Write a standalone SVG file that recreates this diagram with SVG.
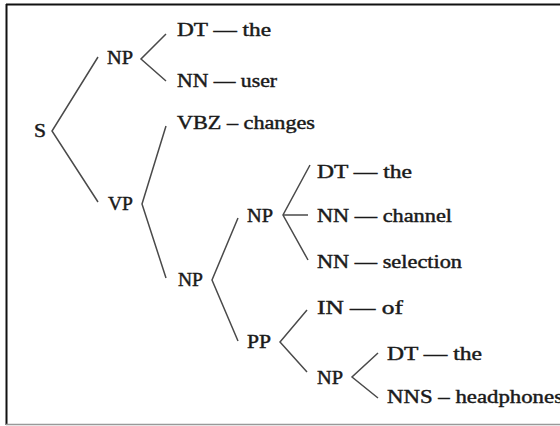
<svg xmlns="http://www.w3.org/2000/svg" width="560" height="426" viewBox="0 0 560 426">
<style>
text{font-family:"Liberation Serif","Times New Roman",serif;font-size:19px;fill:#1a1a1a;stroke:#1a1a1a;stroke-width:0.45}
.e{fill:none;stroke:#4a4a4a;stroke-width:1.5;stroke-linejoin:miter}
</style>
<rect x="0" y="0" width="560" height="426" fill="#fff"/>
<g id="frame">
<line x1="6" y1="4.5" x2="560" y2="4.5" stroke="#111" stroke-width="2"/>
<line x1="6.5" y1="4" x2="6.5" y2="425" stroke="#111" stroke-width="2"/>
<line x1="6" y1="424.5" x2="560" y2="424.5" stroke="#999" stroke-width="1.5"/>
</g>
<g id="connectors">
<polyline class="e" points="98,57 52,131 98,202"/>
<polyline class="e" points="166,34 141,59 166,81"/>
<polyline class="e" points="166,126 142,204 166,278"/>
<polyline class="e" points="238,218 212,280 238,341"/>
<polyline class="e" points="310,165 283,215 308,260"/>
<line class="e" x1="283" y1="215" x2="308" y2="215"/>
<polyline class="e" points="307,310 280,342 307,372"/>
<polyline class="e" points="378,353 352,377 378,398"/>
</g>
<g id="n-S"><text x="34" y="137" textLength="12" lengthAdjust="spacingAndGlyphs">S</text></g>
<g id="n-NP1"><text x="107" y="64" textLength="26" lengthAdjust="spacingAndGlyphs">NP</text></g>
<g id="n-DT1"><text x="177" y="36" textLength="94" lengthAdjust="spacingAndGlyphs">DT — the</text></g>
<g id="n-NN1"><text x="177" y="87" textLength="100" lengthAdjust="spacingAndGlyphs">NN — user</text></g>
<g id="n-VP"><text x="108" y="210" textLength="25" lengthAdjust="spacingAndGlyphs">VP</text></g>
<g id="n-VBZ"><text x="177" y="129" textLength="138" lengthAdjust="spacingAndGlyphs">VBZ – changes</text></g>
<g id="n-NP2"><text x="178" y="286" textLength="25" lengthAdjust="spacingAndGlyphs">NP</text></g>
<g id="n-NP3"><text x="247" y="222" textLength="26" lengthAdjust="spacingAndGlyphs">NP</text></g>
<g id="n-DT2"><text x="317" y="178" textLength="95" lengthAdjust="spacingAndGlyphs">DT — the</text></g>
<g id="n-NN2"><text x="317" y="222" textLength="135" lengthAdjust="spacingAndGlyphs">NN — channel</text></g>
<g id="n-NN3"><text x="317" y="268" textLength="145" lengthAdjust="spacingAndGlyphs">NN — selection</text></g>
<g id="n-PP"><text x="247" y="348" textLength="24" lengthAdjust="spacingAndGlyphs">PP</text></g>
<g id="n-IN"><text x="317" y="314" textLength="86" lengthAdjust="spacingAndGlyphs">IN — of</text></g>
<g id="n-NP4"><text x="317" y="384" textLength="26" lengthAdjust="spacingAndGlyphs">NP</text></g>
<g id="n-DT3"><text x="387" y="360" textLength="95" lengthAdjust="spacingAndGlyphs">DT — the</text></g>
<g id="n-NNS"><text x="387" y="403" textLength="176" lengthAdjust="spacingAndGlyphs">NNS – headphones</text></g>
</svg>
